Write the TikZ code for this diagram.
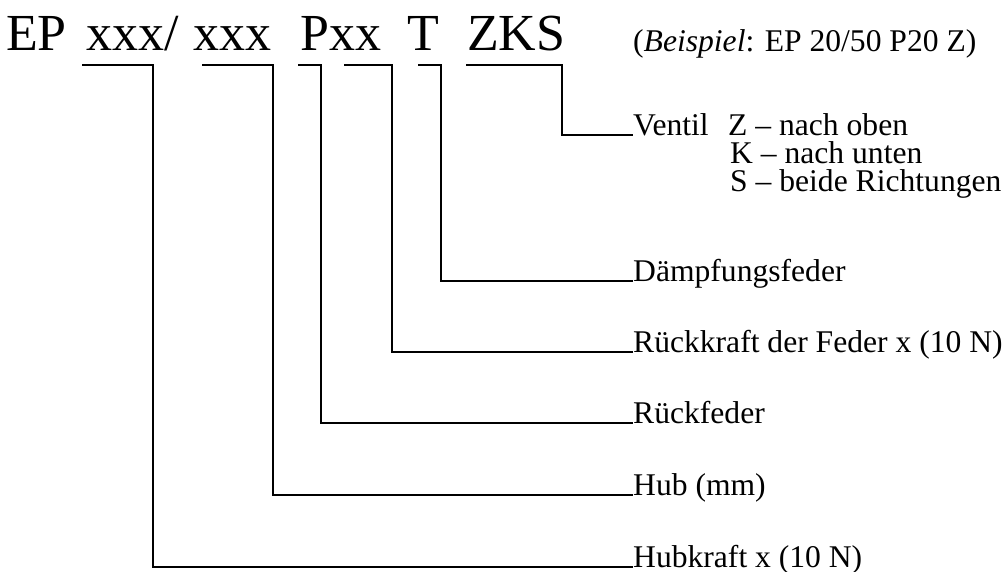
\documentclass[tikz,border=0pt]{standalone}
\usepackage{fontspec}
\setmainfont{Liberation Serif}
\begin{document}
\begin{tikzpicture}[x=1pt,y=-1pt,
  code/.style={anchor=base west,inner sep=0pt,font=\fontsize{52}{60}\selectfont},
  lbl/.style={anchor=base west,inner sep=0pt,font=\fontsize{31.6}{38}\selectfont},
  conn/.style={draw=black,line width=2pt}]
\useasboundingbox[fill=white] (0,0) rectangle (1008,571);
% code parts
\node[code] (ep) at (6,50) {EP};
\node[code] (hk) at (86,50) {xxx/};
\node[code] (hb) at (193,50) {xxx};
\node[code] (px) at (300,50) {Pxx};
\node[code] (tt) at (407,50) {T};
\node[code] (zks) at (467,50) {ZKS};
\node[lbl] (bsp) at (633,51) {(\textit{Beispiel}: EP 20/50 P20 Z)};
% labels
\node[lbl] (l6) at (633,135) {Ventil};
\node[lbl] (v1) at (728,135) {Z – nach oben};
\node[lbl] (v2) at (730,163) {K – nach unten};
\node[lbl] (v3) at (730,191) {S – beide Richtungen};
\node[lbl] (l5) at (633,281) {Dämpfungsfeder};
\node[lbl] (l4) at (633,352) {Rückkraft der Feder x (10 N)};
\node[lbl] (l3) at (633,423) {Rückfeder};
\node[lbl] (l2) at (633,495) {Hub (mm)};
\node[lbl] (l1) at (633,567) {Hubkraft x (10 N)};
% bracket coordinates
\coordinate (s1) at (82,65);  \coordinate (c1) at (153,65);
\coordinate (s2) at (202,65); \coordinate (c2) at (273,65);
\coordinate (s3) at (298,65); \coordinate (c3) at (321,65);
\coordinate (s4) at (344,65); \coordinate (c4) at (392,65);
\coordinate (s5) at (418,65); \coordinate (c5) at (441,65);
\coordinate (s6) at (466,65); \coordinate (c6) at (562,65);
% connectors
\draw[conn] (s1) -- (c1) |- (l1.base west);
\draw[conn] (s2) -- (c2) |- (l2.base west);
\draw[conn] (s3) -- (c3) |- (l3.base west);
\draw[conn] (s4) -- (c4) |- (l4.base west);
\draw[conn] (s5) -- (c5) |- (l5.base west);
\draw[conn] (s6) -- (c6) |- (l6.base west);
\end{tikzpicture}
\end{document}
